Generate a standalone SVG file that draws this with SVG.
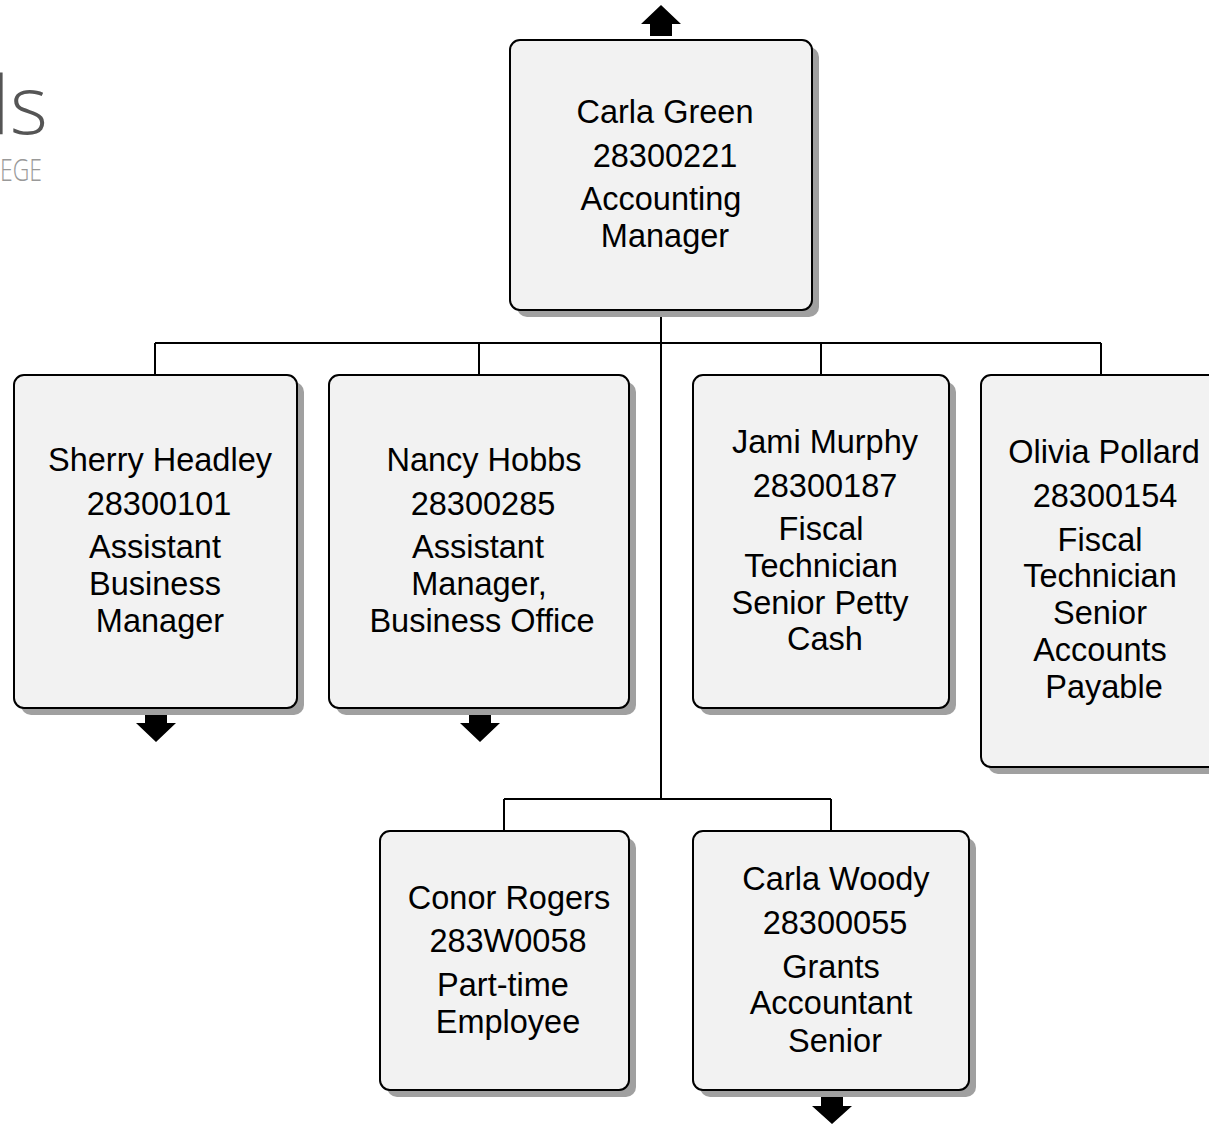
<svg xmlns="http://www.w3.org/2000/svg" width="1209" height="1124" viewBox="0 0 1209 1124">
<style>
.sh{fill:#a0a0a0}
.bx{fill:#f2f2f2;stroke:#000;stroke-width:2}
.t{font-family:"Liberation Sans",Arial,sans-serif;font-size:32.5px;fill:#000;text-anchor:middle}
.ln{stroke:#000;stroke-width:2;fill:none}
.ar{fill:#000}
</style>
<rect width="1209" height="1124" fill="#fff"/>
<g id="logo">
<text x="-39" y="134" font-family="'Open Sans',sans-serif" font-weight="300" font-size="82" fill="#555">ds</text>
<text x="0" y="181" font-family="'Open Sans',sans-serif" font-weight="300" font-size="31" fill="#999" textLength="42" lengthAdjust="spacingAndGlyphs">EGE</text>
</g>
<g id="connectors">
<path class="ln" d="M661 310V799M155 343H1101M155 343V375M479 343V375M821 343V375M1101 343V375M504 799H831M504 799V831M831 799V831"/>
<path class="ar" d="M641 24L661 5L681 24H672V36H650V24Z"/>
<path class="ar" d="M136 723L156 742L176 723H167V711H145V723Z"/>
<path class="ar" d="M460 723L480 742L500 723H491V711H469V723Z"/>
<path class="ar" d="M812 1106L832 1124L852 1106H843V1094H821V1106Z"/>
</g>
<g id="carla-green">
<rect class="sh" x="517" y="47" width="302" height="270" rx="10"/>
<rect class="bx" x="510" y="40" width="302" height="270" rx="10"/>
<text class="t" x="665" y="123">Carla Green</text>
<text class="t" x="665" y="167">28300221</text>
<text class="t" x="661" y="210">Accounting</text>
<text class="t" x="665" y="247">Manager</text>
</g>
<g id="sherry-headley">
<rect class="sh" x="21" y="382" width="283" height="333" rx="10"/>
<rect class="bx" x="14" y="375" width="283" height="333" rx="10"/>
<text class="t" x="160" y="471">Sherry Headley</text>
<text class="t" x="159" y="515">28300101</text>
<text class="t" x="155" y="558">Assistant</text>
<text class="t" x="155" y="595">Business</text>
<text class="t" x="160" y="632">Manager</text>
</g>
<g id="nancy-hobbs">
<rect class="sh" x="336" y="382" width="300" height="333" rx="10"/>
<rect class="bx" x="329" y="375" width="300" height="333" rx="10"/>
<text class="t" x="484" y="471">Nancy Hobbs</text>
<text class="t" x="483" y="515">28300285</text>
<text class="t" x="478" y="558">Assistant</text>
<text class="t" x="479" y="595">Manager,</text>
<text class="t" x="482" y="632">Business Office</text>
</g>
<g id="jami-murphy">
<rect class="sh" x="700" y="382" width="256" height="333" rx="10"/>
<rect class="bx" x="693" y="375" width="256" height="333" rx="10"/>
<text class="t" x="825" y="453">Jami Murphy</text>
<text class="t" x="825" y="497">28300187</text>
<text class="t" x="821" y="540">Fiscal</text>
<text class="t" x="821" y="577">Technician</text>
<text class="t" x="820" y="614">Senior Petty</text>
<text class="t" x="825" y="650">Cash</text>
</g>
<g id="olivia-pollard">
<rect class="sh" x="988" y="382" width="240" height="392" rx="10"/>
<rect class="bx" x="981" y="375" width="240" height="392" rx="10"/>
<text class="t" x="1104" y="463">Olivia Pollard</text>
<text class="t" x="1105" y="507">28300154</text>
<text class="t" x="1100" y="551">Fiscal</text>
<text class="t" x="1100" y="587">Technician</text>
<text class="t" x="1100" y="624">Senior</text>
<text class="t" x="1100" y="661">Accounts</text>
<text class="t" x="1104" y="698">Payable</text>
</g>
<g id="conor-rogers">
<rect class="sh" x="387" y="838" width="249" height="259" rx="10"/>
<rect class="bx" x="380" y="831" width="249" height="259" rx="10"/>
<text class="t" x="509" y="909">Conor Rogers</text>
<text class="t" x="508" y="952">283W0058</text>
<text class="t" x="503" y="996">Part-time</text>
<text class="t" x="508" y="1033">Employee</text>
</g>
<g id="carla-woody">
<rect class="sh" x="700" y="838" width="276" height="259" rx="10"/>
<rect class="bx" x="693" y="831" width="276" height="259" rx="10"/>
<text class="t" x="836" y="890">Carla Woody</text>
<text class="t" x="835" y="934">28300055</text>
<text class="t" x="831" y="978">Grants</text>
<text class="t" x="831" y="1014">Accountant</text>
<text class="t" x="835" y="1052">Senior</text>
</g>
</svg>
